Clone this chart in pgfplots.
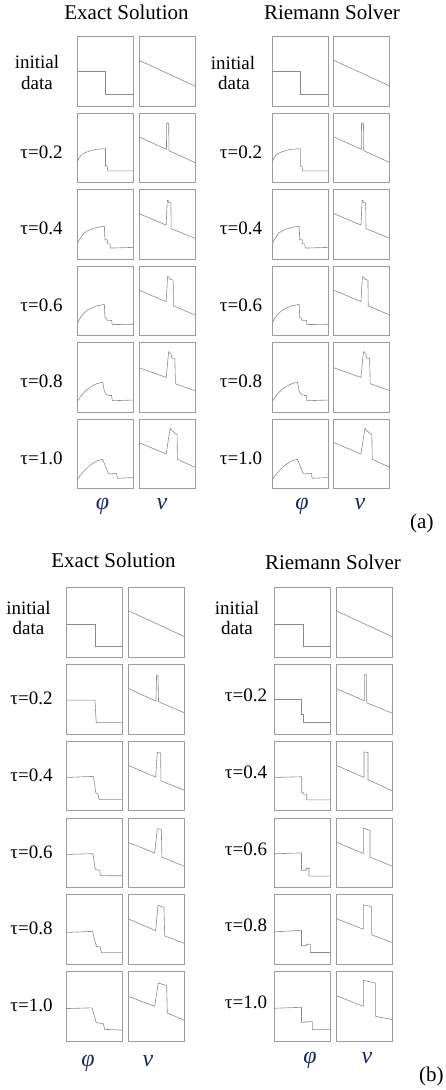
\documentclass[border=0pt]{standalone}
\usepackage{fontspec}
\setmainfont{Liberation Serif}
\newfontfamily\libserif{Liberation Serif}
\usepackage{pgfplots}
\usepackage{pgfplotstable}
\pgfplotsset{compat=1.18}

\definecolor{framegray}{HTML}{9C9C9C}
\definecolor{curvegray}{HTML}{8A8A8A}
\definecolor{varblue}{HTML}{1C2A5C}

% ---------- profiles, case (a) ----------
\pgfplotstableread{
x y
0 0.5
0.5 0.5
0.5 0.17
1 0.17
}\aPhiA
\pgfplotstableread{
x y
0 0.66
1 0.29
}\aVA
\pgfplotstableread{
x y
0 0.30
0.03 0.36
0.08 0.41
0.16 0.44
0.25 0.465
0.34 0.48
0.5 0.49
0.5 0.24
0.53 0.24
0.54 0.17
1 0.17
}\aPhiB
\pgfplotstableread{
x y
0 0.66
0.49 0.48
0.495 0.85
0.505 0.86
0.53 0.85
0.535 0.46
1 0.29
}\aVB
\pgfplotstableread{
x y
0 0.23
0.05 0.30
0.11 0.37
0.18 0.41
0.25 0.435
0.35 0.457
0.48 0.476
0.49 0.28
0.53 0.28
0.54 0.22
0.58 0.22
0.59 0.16
1 0.17
}\aPhiC
\pgfplotstableread{
x y
0 0.657
0.485 0.49
0.505 0.85
0.52 0.85
0.525 0.82
0.57 0.81
0.575 0.44
1 0.30
}\aVC
\pgfplotstableread{
x y
0 0.177
0.05 0.26
0.107 0.32
0.17 0.36
0.226 0.39
0.345 0.43
0.48 0.45
0.49 0.26
0.52 0.25
0.53 0.22
0.61 0.22
0.62 0.16
1 0.165
}\aPhiD
\pgfplotstableread{
x y
0 0.655
0.485 0.49
0.51 0.85
0.53 0.845
0.56 0.81
0.61 0.80
0.615 0.43
1 0.297
}\aVD
\pgfplotstableread{
x y
0 0.157
0.05 0.22
0.107 0.276
0.17 0.325
0.226 0.36
0.345 0.41
0.45 0.433
0.48 0.30
0.52 0.25
0.56 0.25
0.57 0.24
0.61 0.24
0.62 0.165
1 0.175
}\aPhiE
\pgfplotstableread{
x y
0 0.64
0.485 0.50
0.53 0.87
0.575 0.835
0.585 0.78
0.64 0.775
0.65 0.41
1 0.31
}\aVE
\pgfplotstableread{
x y
0 0.135
0.05 0.19
0.107 0.245
0.17 0.295
0.226 0.34
0.345 0.40
0.45 0.423
0.50 0.32
0.55 0.22
0.60 0.21
0.64 0.22
0.70 0.22
0.71 0.15
1 0.16
}\aPhiF
\pgfplotstableread{
x y
0 0.663
0.485 0.50
0.556 0.87
0.586 0.837
0.645 0.798
0.68 0.78
0.686 0.423
1 0.308
}\aVF

% ---------- profiles, case (b), exact solution ----------
\pgfplotstableread{
x y
0 0.478
0.518 0.478
0.518 0.153
1 0.153
}\bPhiA
\pgfplotstableread{
x y
0 0.67
1 0.297
}\bVA
\pgfplotstableread{
x y
0 0.488
0.505 0.488
0.52 0.25
0.53 0.163
1 0.163
}\bPhiB
\pgfplotstableread{
x y
0 0.655
0.494 0.474
0.505 0.847
0.53 0.847
0.54 0.464
1 0.306
}\bVB
\pgfplotstableread{
x y
0 0.48
0.476 0.495
0.52 0.26
0.555 0.25
0.58 0.16
1 0.16
}\bPhiC
\pgfplotstableread{
x y
0 0.654
0.488 0.486
0.518 0.84
0.577 0.83
0.583 0.433
1 0.293
}\bVC
\pgfplotstableread{
x y
0 0.478
0.47 0.488
0.51 0.26
0.59 0.25
0.60 0.172
1 0.17
}\bPhiD
\pgfplotstableread{
x y
0 0.651
0.47 0.498
0.518 0.847
0.59 0.835
0.60 0.44
1 0.306
}\bVD
\pgfplotstableread{
x y
0 0.46
0.46 0.475
0.53 0.26
0.6 0.25
0.62 0.17
1 0.17
}\bPhiE
\pgfplotstableread{
x y
0 0.654
0.488 0.486
0.53 0.85
0.637 0.82
0.65 0.41
1 0.303
}\bVE
\pgfplotstableread{
x y
0 0.47
0.45 0.48
0.53 0.265
0.65 0.255
0.68 0.17
1 0.16
}\bPhiF
\pgfplotstableread{
x y
0 0.646
0.47 0.502
0.536 0.837
0.685 0.80
0.696 0.407
1 0.301
}\bVF

% ---------- profiles, case (b), Riemann solver ----------
\pgfplotstableread{
x y
0 0.498
0.49 0.498
0.49 0.28
0.515 0.28
0.515 0.166
1 0.166
}\rPhiB
\pgfplotstableread{
x y
0 0.654
0.506 0.479
0.506 0.853
0.548 0.853
0.548 0.45
1 0.30
}\rVB
\pgfplotstableread{
x y
0 0.48
0.49 0.49
0.49 0.262
0.52 0.262
0.52 0.24
0.58 0.24
0.58 0.157
1 0.157
}\rPhiC
\pgfplotstableread{
x y
0 0.657
0.50 0.481
0.50 0.848
0.571 0.838
0.571 0.448
1 0.29
}\rVC
\pgfplotstableread{
x y
0 0.486
0.485 0.50
0.485 0.25
0.57 0.25
0.57 0.275
0.62 0.275
0.62 0.165
1 0.165
}\rPhiD
\pgfplotstableread{
x y
0 0.657
0.488 0.49
0.488 0.857
0.607 0.824
0.607 0.438
1 0.31
}\rVD
\pgfplotstableread{
x y
0 0.469
0.485 0.49
0.485 0.268
0.57 0.268
0.57 0.29
0.645 0.29
0.645 0.172
1 0.172
}\rPhiE
\pgfplotstableread{
x y
0 0.66
0.488 0.507
0.488 0.856
0.637 0.833
0.637 0.426
1 0.316
}\rVE
\pgfplotstableread{
x y
0 0.474
0.485 0.488
0.485 0.273
0.55 0.273
0.55 0.28
0.68 0.28
0.68 0.167
1 0.167
}\rPhiF
\pgfplotstableread{
x y
0 0.656
0.488 0.502
0.488 0.876
0.702 0.837
0.702 0.36
1 0.31
}\rVF

\pgfplotsset{
  panel/.style={
    width=56pt, height=69.5pt, scale only axis,
    xmin=0, xmax=1, ymin=0, ymax=1,
    ticks=none, anchor=north west,
    axis line style={framegray, line width=0.9pt},
  }
}

% one row of the figure: phi-panel x, v-panel x, top y, phi table, v table
\newcommand{\prow}[5]{%
  \begin{axis}[panel, at={(#1pt,-#3pt)}]
    \addplot[curvegray, line width=0.6pt, mark=none] table {#4};
  \end{axis}
  \begin{axis}[panel, at={(#2pt,-#3pt)}]
    \addplot[curvegray, line width=0.6pt, mark=none] table {#5};
  \end{axis}}

\tikzset{
  lab/.style={font=\libserif\fontsize{19}{21}\selectfont, inner sep=0pt, anchor=base},
  ttl/.style={font=\libserif\fontsize{21}{24}\selectfont, inner sep=0pt, anchor=base},
  var/.style={font=\libserif\itshape\fontsize{24}{28}\selectfont, text=varblue, inner sep=0pt, anchor=base},
}
\newcommand{\lbl}[3]{\node[lab] at (#1pt,-#2pt) {#3};}

\begin{document}
\begin{tikzpicture}
\useasboundingbox (0,0) rectangle (445pt,-1090pt);
\clip (0,0) rectangle (445pt,-1090pt);

% column variables under the panels
\node[var] at (102.5pt,-509pt) {φ};
\node[var] at (162pt,-509pt) {v};
\node[var] at (302pt,-509pt) {φ};
\node[var] at (360pt,-509pt) {v};
\node[var] at (88pt,-1066pt) {φ};
\node[var] at (148pt,-1066pt) {v};
\node[var] at (310pt,-1063pt) {φ};
\node[var] at (367pt,-1063pt) {v};

% ================= (a) =================
\prow{77.5}{139}{36.7}{\aPhiA}{\aVA}
\prow{77.5}{139}{113.2}{\aPhiB}{\aVB}
\prow{77.5}{139}{189.7}{\aPhiC}{\aVC}
\prow{77.5}{139}{266.2}{\aPhiD}{\aVD}
\prow{77.5}{139}{342.7}{\aPhiE}{\aVE}
\prow{77.5}{139}{419.2}{\aPhiF}{\aVF}

\prow{272.3}{333.8}{36.7}{\aPhiA}{\aVA}
\prow{272.3}{333.8}{113.2}{\aPhiB}{\aVB}
\prow{272.3}{333.8}{189.7}{\aPhiC}{\aVC}
\prow{272.3}{333.8}{266.2}{\aPhiD}{\aVD}
\prow{272.3}{333.8}{342.7}{\aPhiE}{\aVE}
\prow{272.3}{333.8}{419.2}{\aPhiF}{\aVF}

% ================= (b) =================
\prow{66.7}{128.3}{587.7}{\bPhiA}{\bVA}
\prow{66.7}{128.3}{664.5}{\bPhiB}{\bVB}
\prow{66.7}{128.3}{741.3}{\bPhiC}{\bVC}
\prow{66.7}{128.3}{818.1}{\bPhiD}{\bVD}
\prow{66.7}{128.3}{894.9}{\bPhiE}{\bVE}
\prow{66.7}{128.3}{971.7}{\bPhiF}{\bVF}

\prow{274.3}{336}{587.7}{\bPhiA}{\bVA}
\prow{274.3}{336}{664.5}{\rPhiB}{\rVB}
\prow{274.3}{336}{741.3}{\rPhiC}{\rVC}
\prow{274.3}{336}{818.1}{\rPhiD}{\rVD}
\prow{274.3}{336}{894.9}{\rPhiE}{\rVE}
\prow{274.3}{336}{971.7}{\rPhiF}{\rVF}

% ---------- titles and row labels ----------
\node[ttl] at (126.5pt,-19pt) {Exact Solution};
\node[ttl] at (332pt,-19pt) {Riemann Solver};
\node[ttl, anchor=base west] at (410pt,-528pt) {(a)};

\lbl{37}{68.3}{initial}
\lbl{37}{89.3}{data}
\lbl{41.5}{158.2}{τ=0.2}
\lbl{41.5}{234.7}{τ=0.4}
\lbl{41.5}{311.2}{τ=0.6}
\lbl{41.5}{387.7}{τ=0.8}
\lbl{41.5}{464.2}{τ=1.0}

\lbl{233}{69}{initial}
\lbl{234}{89.5}{data}
\lbl{241}{158}{τ=0.2}
\lbl{241}{234.5}{τ=0.4}
\lbl{241}{311}{τ=0.6}
\lbl{241}{387.5}{τ=0.8}
\lbl{241}{464}{τ=1.0}

\node[ttl] at (113.5pt,-567.3pt) {Exact Solution};
\node[ttl] at (333pt,-569pt) {Riemann Solver};
\node[ttl, anchor=base west] at (419pt,-1081pt) {(b)};

\lbl{28.5}{614}{initial}
\lbl{28.5}{634}{data}
\lbl{31.5}{704.5}{τ=0.2}
\lbl{31.5}{781.3}{τ=0.4}
\lbl{31.5}{858.1}{τ=0.6}
\lbl{31.5}{934.9}{τ=0.8}
\lbl{31.5}{1011.7}{τ=1.0}

\lbl{237}{614}{initial}
\lbl{237}{634}{data}
\lbl{246}{701.5}{τ=0.2}
\lbl{246}{778.3}{τ=0.4}
\lbl{246}{855.1}{τ=0.6}
\lbl{246}{931.9}{τ=0.8}
\lbl{246}{1008.7}{τ=1.0}
\end{tikzpicture}
\end{document}
